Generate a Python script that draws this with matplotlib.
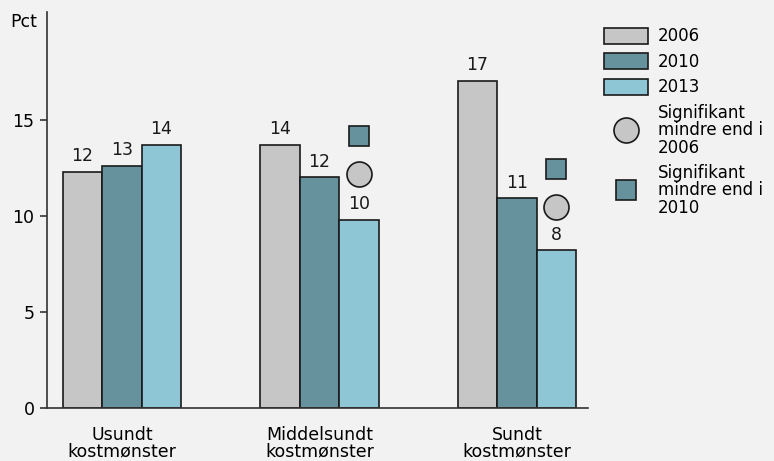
import numpy as np
import matplotlib
matplotlib.use("Agg")
import matplotlib.pyplot as plt
from matplotlib.lines import Line2D
from matplotlib.patches import Patch

categories = ["Usundt\nkostmønster", "Middelsundt\nkostmønster", "Sundt\nkostmønster"]
years = ["2006", "2010", "2013"]
pct_2006 = [12.3, 13.7, 17.0]
pct_2010 = [12.6, 12.0, 10.9]
pct_2013 = [13.7, 9.8, 8.2]
# significance markers shown above the 2013 bar
sig_vs_2006 = [None, 12.15, 10.45]
sig_vs_2010 = [None, 14.15, 12.45]
yticks = [0, 5, 10, 15]

colors = ["#c6c6c6", "#66929e", "#8ec6d5"]
bg = "#f2f2f2"
edge = "#1a1a1a"

plt.rcParams["font.family"] = ["DejaVu Sans"]
fig = plt.figure(figsize=(7.74, 4.61), dpi=100, facecolor=bg)
ax = fig.add_axes([0.0607, 0.115, 0.699, 0.859], facecolor=bg)

x = np.arange(len(categories))
w = 0.2
for i, (vals, c) in enumerate(zip([pct_2006, pct_2010, pct_2013], colors)):
    pos = x + (i - 1) * w
    ax.bar(pos, vals, width=w, color=c, edgecolor=edge, linewidth=1.2, zorder=2)
    for p, v in zip(pos, vals):
        ax.text(p, v + 0.35, f"{v:.0f}", ha="center", va="bottom", fontsize=12.5, color="#1a1a1a")

xs = x + w
for xi, v in zip(xs, sig_vs_2006):
    if v is not None:
        ax.plot(xi, v, "o", ms=18, mfc=colors[0], mec=edge, mew=1.2, zorder=3)
for xi, v in zip(xs, sig_vs_2010):
    if v is not None:
        ax.plot(xi, v, "s", ms=15, mfc=colors[1], mec=edge, mew=1.2, zorder=3)

ax.set_xlim(-0.38, 2.36)
ax.set_ylim(0, 20.6)
ax.set_xticks(x)
ax.set_xticklabels(categories, fontsize=12.5, linespacing=0.85)
ax.tick_params(axis="x", length=0, pad=13)
ax.set_yticks(yticks)
ax.tick_params(axis="y", labelsize=12.5, length=5, width=1.2, color="#333333", pad=4)
for s in ["top", "right"]:
    ax.spines[s].set_visible(False)
ax.spines["left"].set_color("#333333")
ax.spines["left"].set_linewidth(1.2)
ax.spines["bottom"].set_color("#333333")
ax.spines["bottom"].set_linewidth(1.2)

fig.text(0.013, 0.952, "Pct", fontsize=12.5, ha="left", va="center")

handles = [Patch(facecolor=c, edgecolor=edge, linewidth=1.2) for c in colors]
handles += [
    Line2D([], [], marker="o", ls="none", ms=18, mfc=colors[0], mec=edge, mew=1.2),
    Line2D([], [], marker="s", ls="none", ms=15, mfc=colors[1], mec=edge, mew=1.2),
]
labels = years + ["Signifikant\nmindre end i\n2006", "Signifikant\nmindre end i\n2010"]
fig.legend(handles, labels, loc="upper left", bbox_to_anchor=(0.772, 0.955), frameon=False,
           fontsize=12, handlelength=2.6, handleheight=1.1, handletextpad=0.6,
           labelspacing=0.45, borderaxespad=0)
for t in fig.legends[0].get_texts():
    t.set_linespacing(0.95)

fig.savefig("out.png", dpi=100, facecolor=bg)
